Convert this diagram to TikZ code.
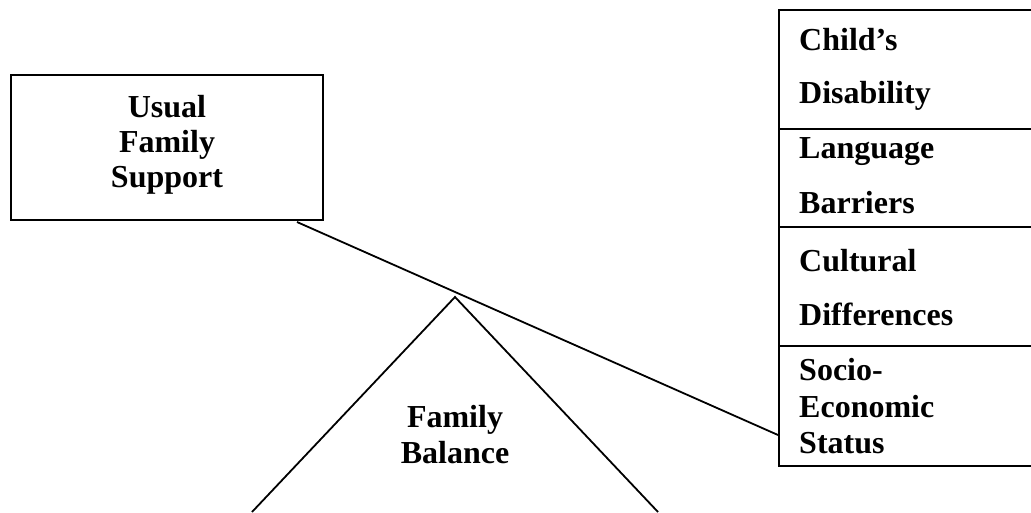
\documentclass[tikz,border=0pt]{standalone}
\usepackage{fontspec}
\setmainfont{Liberation Serif}
\begin{document}
\begin{tikzpicture}[x=1pt,y=-1pt,
  lbl/.style={inner sep=0pt,font=\fontsize{32}{36}\selectfont\bfseries},
  lbll/.style={lbl,anchor=base west},
  lblc/.style={lbl,anchor=base},
  ln/.style={line width=2.2pt,black}]
\useasboundingbox (0,0) rectangle (1031,512);
\clip (0,0) rectangle (1031,512);
% left box
\node[draw,ln,minimum width=312pt,minimum height=145pt,inner sep=0pt] (ufs) at (167,147.5) {};
\node[lblc] (t1) at (167,117) {Usual};
\node[lblc] (t2) at (167,152) {Family};
\node[lblc] (t3) at (167,187) {Support};
% right table
\node[draw,ln,minimum width=280pt,minimum height=119pt,inner sep=0pt,anchor=north west] (cd) at (778,9) {};
\node[draw,ln,minimum width=280pt,minimum height=98pt,inner sep=0pt,anchor=north west] (lb) at (778,128) {};
\node[draw,ln,minimum width=280pt,minimum height=119pt,inner sep=0pt,anchor=north west] (cu) at (778,226) {};
\node[draw,ln,minimum width=280pt,minimum height=120pt,inner sep=0pt,anchor=north west] (se) at (778,345) {};
\node[lbll] (r1) at (799,50) {Child’s};
\node[lbll] (r2) at (799,103) {Disability};
\node[lbll] (r3) at (799,158) {Language};
\node[lbll] (r4) at (799,213) {Barriers};
\node[lbll] (r5) at (799,271) {Cultural};
\node[lbll] (r6) at (799,325) {Differences};
\node[lbll] (r7) at (799,380) {Socio-};
\node[lbll] (r8) at (799,417) {Economic};
\node[lbll] (r9) at (799,453) {Status};
% lever line
\coordinate (la) at (297,222);
\coordinate (lb2) at (778,435);
\draw[ln,line width=1.8pt] (la) -- (lb2);
% fulcrum triangle
\coordinate (apex) at (455,297);
\coordinate (bl) at (252,512);
\coordinate (br) at (658,512);
\draw[ln,line width=1.8pt] (bl) -- (apex) -- (br);
\node[lblc] (f1) at (455,427) {Family};
\node[lblc] (f2) at (455,463) {Balance};
\end{tikzpicture}
\end{document}
